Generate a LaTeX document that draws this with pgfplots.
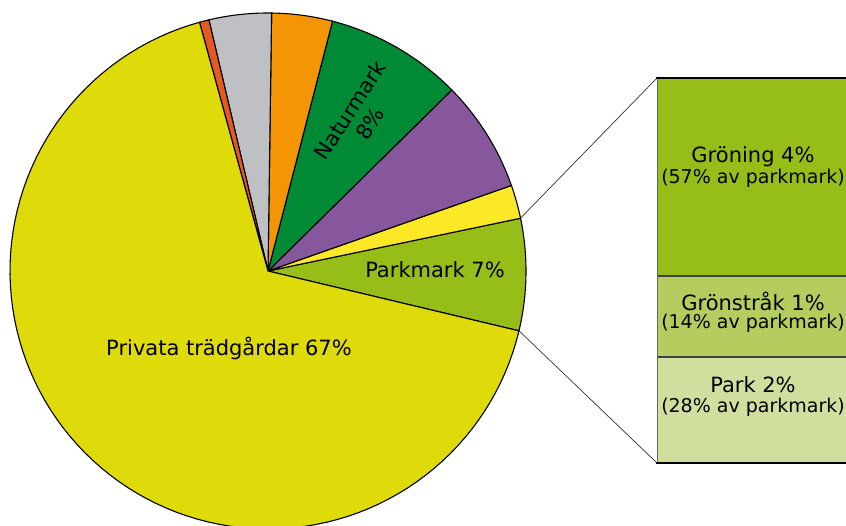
\documentclass[border=0pt]{standalone}
\usepackage{pgfplots}
\pgfplotsset{compat=1.18}
\usepackage{fontspec}
\setmainfont{DejaVu Sans}
\definecolor{cPriv}{RGB}{223,219,11}
\definecolor{cRed}{RGB}{228,90,35}
\definecolor{cGrey}{RGB}{191,192,196}
\definecolor{cOrange}{RGB}{243,149,5}
\definecolor{cGreen}{RGB}{0,138,54}
\definecolor{cPurple}{RGB}{134,87,157}
\definecolor{cYellow}{RGB}{252,232,39}
\definecolor{cPark}{RGB}{151,190,24}
\definecolor{cStrak}{RGB}{181,205,94}
\definecolor{cParkB}{RGB}{209,223,158}
% pie geometry (pixels)
\def\pcx{268}\def\pcy{271}\def\pr{258}
% slice shares in percent
\pgfmathsetmacro\aA{-13.4}
\pgfmathsetmacro\aB{\aA+3.6*7}   % Parkmark
\pgfmathsetmacro\aC{\aB+3.6*2.1} % yellow
\pgfmathsetmacro\aD{\aC+3.6*7}   % purple
\pgfmathsetmacro\aE{\aD+3.6*8.6} % Naturmark
\pgfmathsetmacro\aF{\aE+3.6*3.8} % orange
\pgfmathsetmacro\aG{\aF+3.6*3.9} % grey
\pgfmathsetmacro\aH{\aG+3.6*0.6} % red
\pgfmathsetmacro\aI{\aH+3.6*67}  % Privata
\newcommand\slice[3]{\addplot[draw=black, line width=1.1pt, fill=#3, domain=#1:#2, samples=100, variable=\t] ({\pcx+\pr*cos(\t)},{\pcy-\pr*sin(\t)}) -- (axis cs:\pcx,\pcy) -- cycle;}
\begin{document}
\begin{tikzpicture}
\begin{axis}[width=846pt, height=526pt, scale only axis, xmin=0, xmax=846, ymin=0, ymax=526, y dir=reverse, axis lines=none, ticks=none, clip=true]
\slice{\aA}{\aB}{cPark}
\slice{\aB}{\aC}{cYellow}
\slice{\aC}{\aD}{cPurple}
\slice{\aD}{\aE}{cGreen}
\slice{\aE}{\aF}{cOrange}
\slice{\aF}{\aG}{cGrey}
\slice{\aG}{\aH}{cRed}
\slice{\aH}{\aI}{cPriv}
% connector lines
\addplot[black!80, line width=0.7pt] coordinates {(520.5,218.2) (657,78)};
\addplot[black!80, line width=0.7pt] coordinates {(519,330.8) (657,463)};
% bar of pie
\addplot[fill=cPark, draw=none] coordinates {(657,78) (850,78) (850,276) (657,276)} -- cycle;
\addplot[fill=cStrak, draw=none] coordinates {(657,276) (850,276) (850,357) (657,357)} -- cycle;
\addplot[fill=cParkB, draw=none] coordinates {(657,357) (850,357) (850,463) (657,463)} -- cycle;
\addplot[black!75, line width=1.2pt] coordinates {(657,276) (850,276)};
\addplot[black!75, line width=1.2pt] coordinates {(657,357) (850,357)};
\addplot[black!60, line width=0.9pt] coordinates {(657,78) (657,463)};
\addplot[black, line width=1.6pt] coordinates {(656,78) (850,78)};
\addplot[black, line width=2pt] coordinates {(656,463) (850,463)};
% labels
\node[font=\fontsize{21}{25}\selectfont] at (axis cs:229,348) {Privata trädgårdar 67\%};
\node[font=\fontsize{21}{25}\selectfont] at (axis cs:435,270) {Parkmark 7\%};
\node[font=\fontsize{21}{24}\selectfont, rotate=57, align=center, inner sep=0pt] at (axis cs:360,117) {Naturmark\\8\%};
\node[font=\fontsize{21}{25}\selectfont, inner sep=1pt] at (axis cs:753,157) {Gröning 4\%};
\node[font=\fontsize{19}{22}\selectfont, inner sep=1pt] at (axis cs:753,178) {(57\% av parkmark)};
\node[font=\fontsize{21}{25}\selectfont, inner sep=1pt] at (axis cs:753,301) {Grönstråk 1\%};
\node[font=\fontsize{19}{22}\selectfont, inner sep=1pt] at (axis cs:753,323) {(14\% av parkmark)};
\node[font=\fontsize{21}{25}\selectfont, inner sep=1pt] at (axis cs:753,385) {Park 2\%};
\node[font=\fontsize{19}{22}\selectfont, inner sep=1pt] at (axis cs:753,407) {(28\% av parkmark)};
\end{axis}
\pgfresetboundingbox
\path[use as bounding box] (current axis.south west) rectangle (current axis.north east);
\end{tikzpicture}
\end{document}
